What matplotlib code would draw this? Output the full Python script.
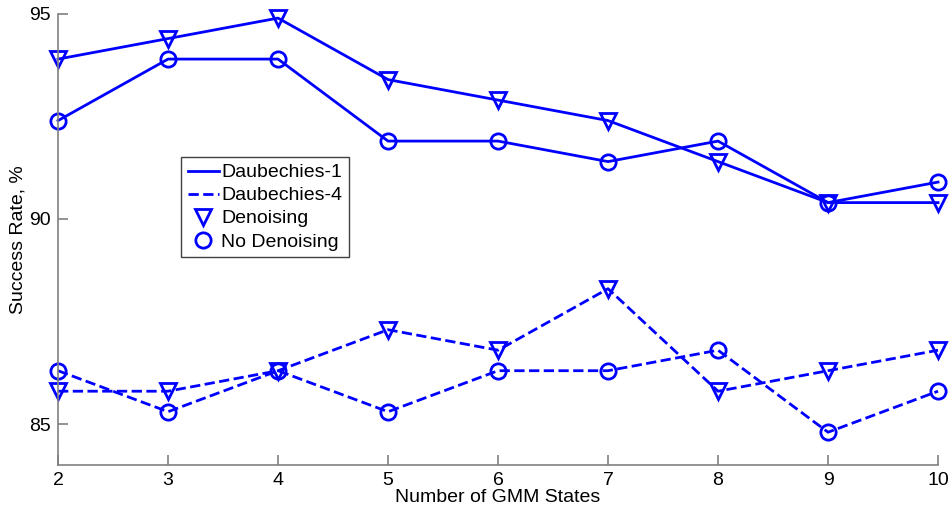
import matplotlib
matplotlib.use("Agg")
import matplotlib.pyplot as plt
from matplotlib.lines import Line2D

plt.rcParams['font.family'] = ['Liberation Sans', 'DejaVu Sans']

states = [2, 3, 4, 5, 6, 7, 8, 9, 10]
db1_denoise = [93.9, 94.4, 94.9, 93.4, 92.9, 92.4, 91.4, 90.4, 90.4]
db1_nodenoise = [92.4, 93.9, 93.9, 91.9, 91.9, 91.4, 91.9, 90.4, 90.9]
db4_denoise = [85.8, 85.8, 86.3, 87.3, 86.8, 88.3, 85.8, 86.3, 86.8]
db4_nodenoise = [86.3, 85.3, 86.3, 85.3, 86.3, 86.3, 86.8, 84.8, 85.8]
yticks = [85, 90, 95]

blue = '#0000ff'
gray = '#808080'

fig = plt.figure(figsize=(9.53, 5.14), dpi=100)
ax = fig.add_axes([0.0609, 0.0953, 0.9234, 0.8775])

style = dict(color=blue, lw=2, ms=11, mfc='none', mew=2, clip_on=False)
ax.plot(states, db1_denoise, '-v', **style)
ax.plot(states, db1_nodenoise, '-o', **style)
ax.plot(states, db4_denoise, '--v', **style)
ax.plot(states, db4_nodenoise, '--o', **style)

ax.set_xlim(2, 10)
ax.set_ylim(84, 95)
ax.set_xticks(states)
ax.set_yticks(yticks)
ax.set_xlabel('Number of GMM States', fontsize=14, labelpad=0)
ax.set_ylabel('Success Rate, %', fontsize=14, labelpad=2)

for s in ['top', 'right']:
    ax.spines[s].set_visible(False)
for s in ['left', 'bottom']:
    ax.spines[s].set_color(gray)
    ax.spines[s].set_linewidth(1.2)
ax.tick_params(direction='in', length=7, color=gray, width=1.2,
               labelsize=14, pad=5)

handles = [
    Line2D([], [], color=blue, lw=2, ls='-'),
    Line2D([], [], color=blue, lw=2, ls='--'),
    Line2D([], [], color=blue, ls='none', marker='v', ms=11, mfc='none', mew=2),
    Line2D([], [], color=blue, ls='none', marker='o', ms=11, mfc='none', mew=2),
]
labels = ['Daubechies-1', 'Daubechies-4', 'Denoising', 'No Denoising']
leg = ax.legend(handles, labels, loc='upper left', bbox_to_anchor=(0.1398, 0.683),
                borderaxespad=0, fontsize=14, fancybox=False, framealpha=1,
                handlelength=1.6, handletextpad=0.1, labelspacing=0.28,
                borderpad=0.35)
leg.get_frame().set_edgecolor('#404040')
leg.get_frame().set_linewidth(1)

fig.savefig('out.png', dpi=100)
